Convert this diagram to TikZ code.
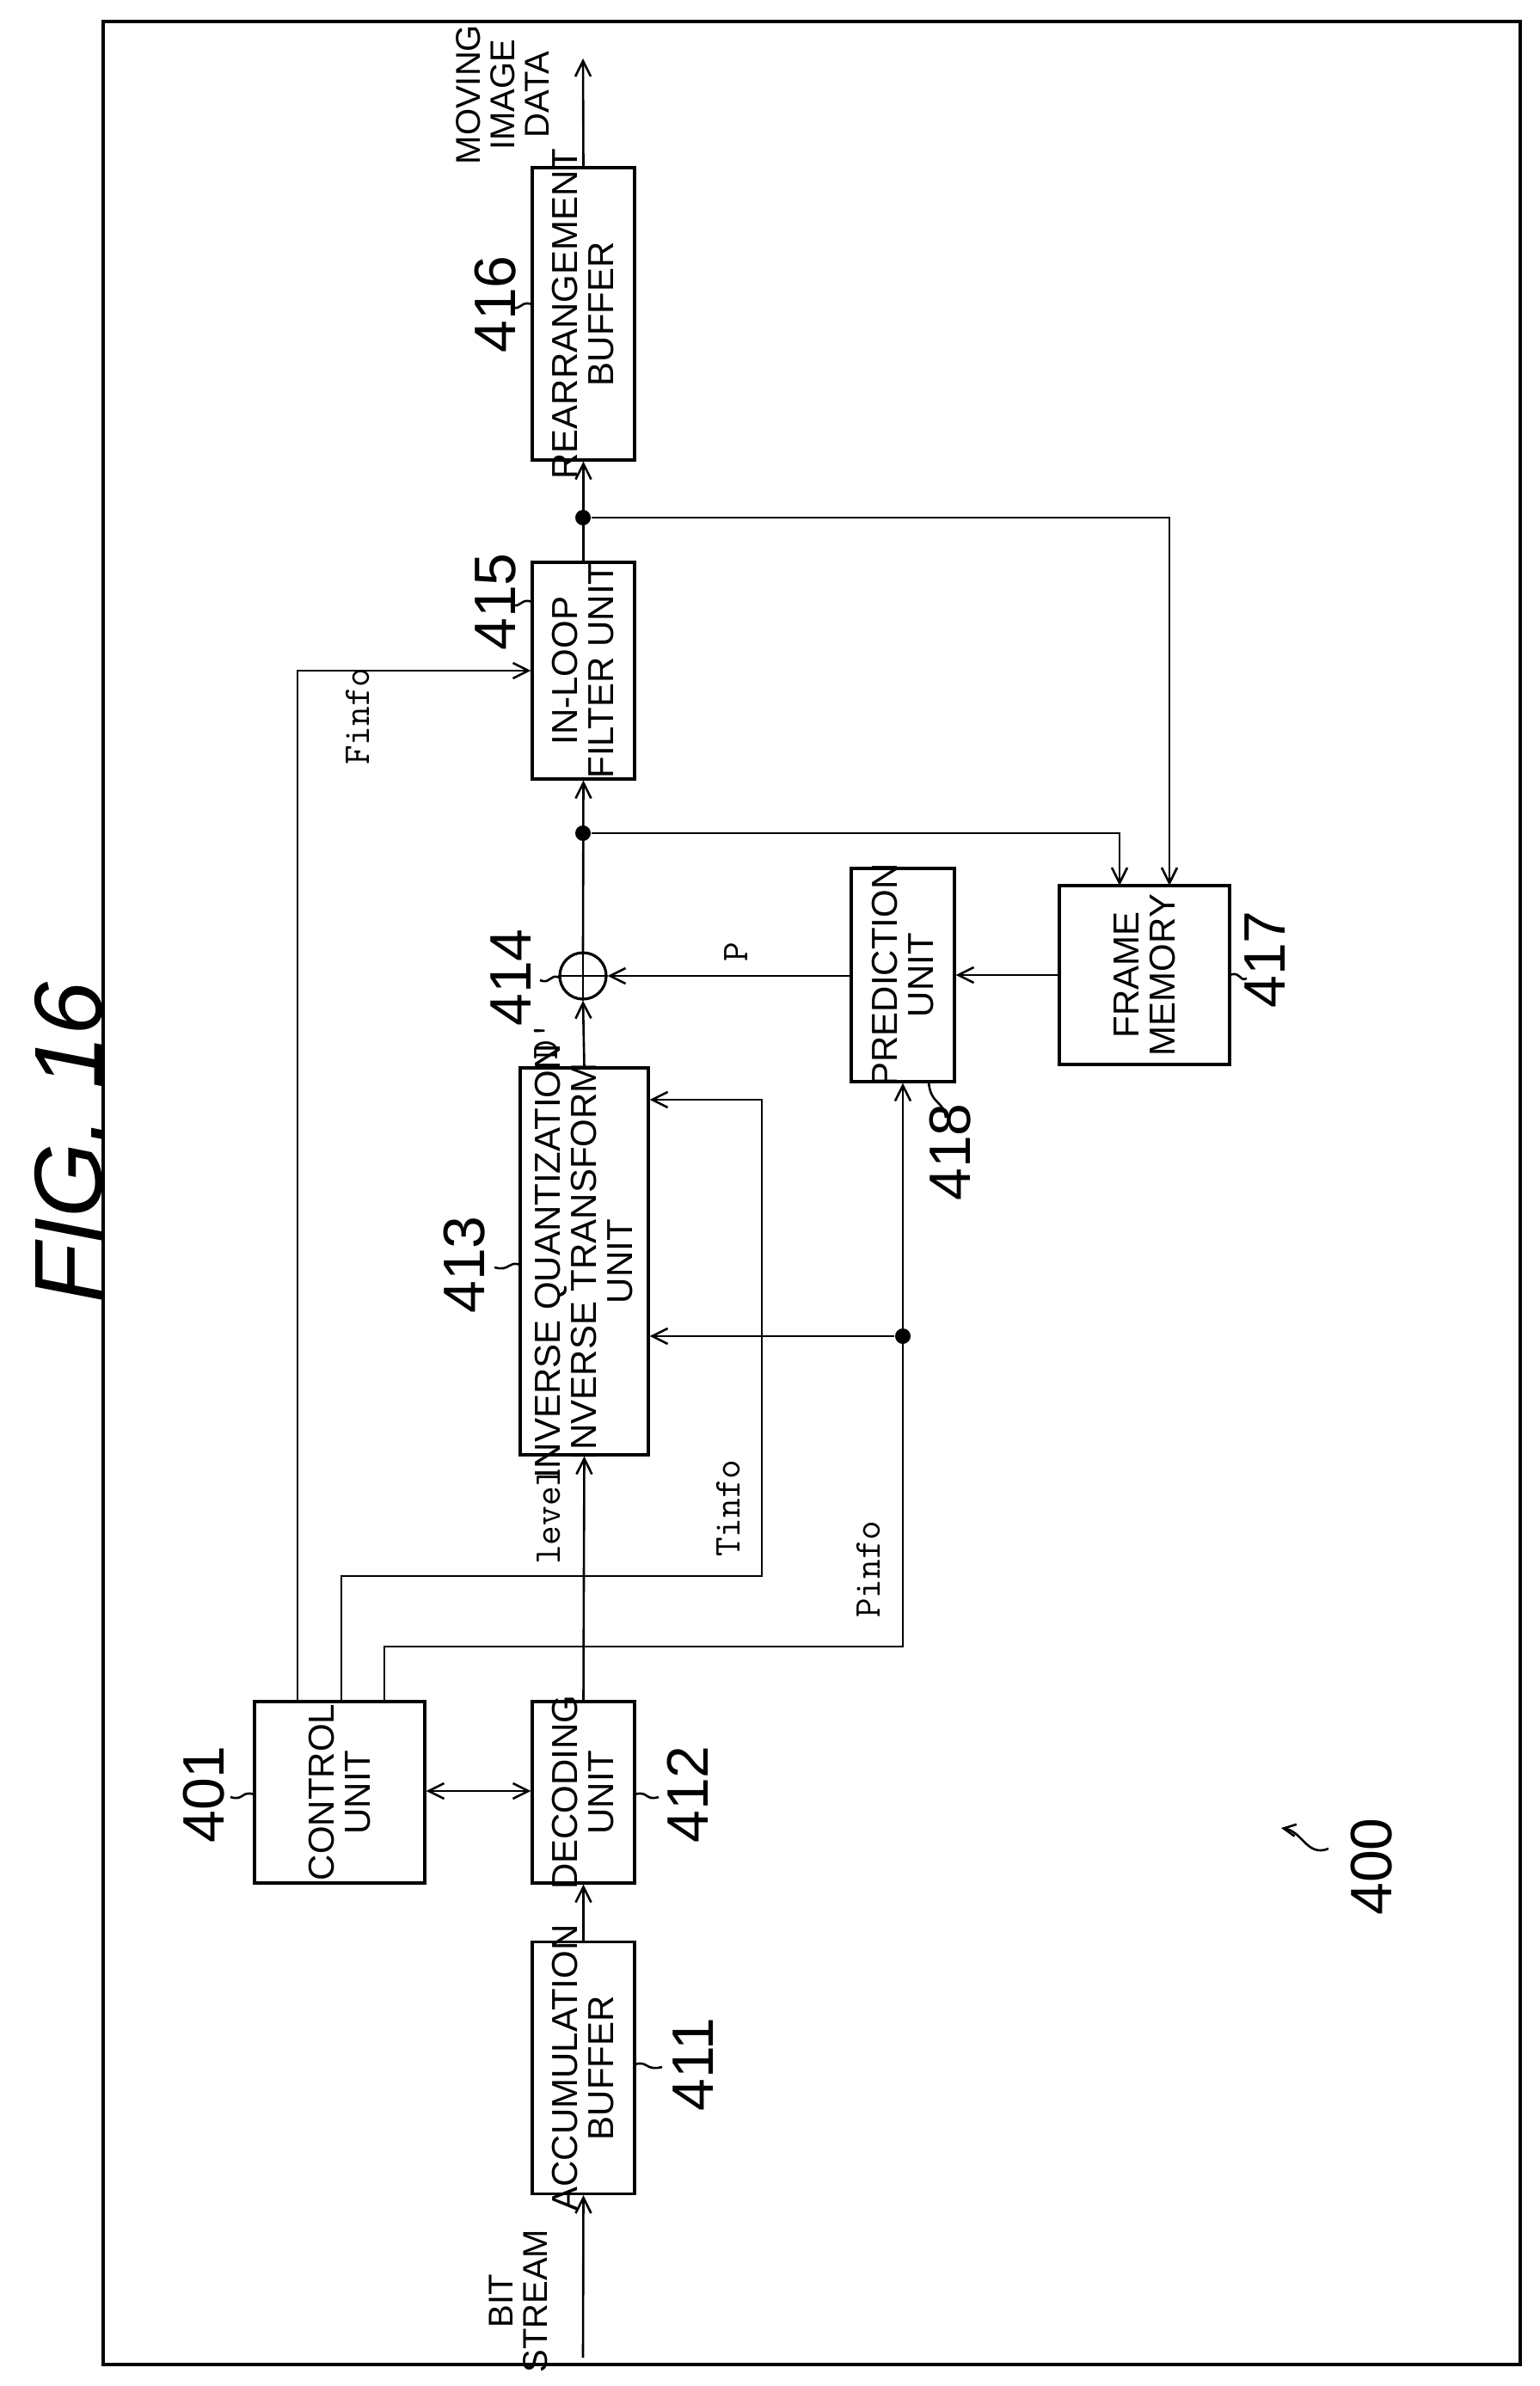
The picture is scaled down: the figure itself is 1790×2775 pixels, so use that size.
\documentclass[tikz,border=0pt]{standalone}
\usepackage{fontspec}
\setmainfont{Liberation Sans}
\usetikzlibrary{arrows.meta}
\begin{document}
\begin{tikzpicture}[x=0.5pt,y=-0.5pt,
  every path/.style={line width=1.3pt},
  box/.style={draw,line width=1.6pt,inner sep=0pt},
  btxt/.style={rotate=90,align=center,font=\fontsize{21}{21}\selectfont},
  ref/.style={rotate=90,font=\fontsize{34}{34}\selectfont},
  sig/.style={rotate=90,font=\ttfamily\fontsize{22}{22}\selectfont},
  arr/.style={-{Straight Barb[length=9pt,width=9pt]}},
  dot/.style={circle,fill,inner sep=0pt,minimum size=9pt}]
\useasboundingbox (0,0) rectangle (1790,2775);
\draw[line width=1.6pt] (120,25) rectangle (1768,2750);
\node[rotate=90,font=\itshape\fontsize{56}{56}\selectfont] (fig) at (80,1329) {FIG. 16};
% boxes
\node[box,minimum width=119*0.5pt,minimum height=293*0.5pt] (b411) at (678.5,2405) {};
\node[btxt] at (b411) {ACCUMULATION\\BUFFER};
\node[box,minimum width=119*0.5pt,minimum height=211*0.5pt] (b412) at (678.5,2084.5) {};
\node[btxt] at (b412) {DECODING\\UNIT};
\node[box,minimum width=198*0.5pt,minimum height=211*0.5pt] (b401) at (395,2084.5) {};
\node[btxt] at (b401) {CONTROL\\UNIT};
\node[box,minimum width=149*0.5pt,minimum height=450*0.5pt] (b413) at (679.5,1467) {};
\node[btxt] at (b413) {INVERSE QUANTIZATION\\INVERSE TRANSFORM\\UNIT};
\node[draw,circle,line width=1.6pt,minimum size=54*0.5pt,inner sep=0pt] (b414) at (678,1135) {};
\draw (b414.north) -- (b414.south) (b414.west) -- (b414.east);
\node[box,minimum width=120*0.5pt,minimum height=248*0.5pt] (b418) at (1050,1134) {};
\node[btxt] at (b418) {PREDICTION\\UNIT};
\node[box,minimum width=198*0.5pt,minimum height=208*0.5pt] (b417) at (1331,1134) {};
\node[btxt] at (b417) {FRAME\\MEMORY};
\node[box,minimum width=119*0.5pt,minimum height=252*0.5pt] (b415) at (678.5,780) {};
\node[btxt] at (b415) {IN-LOOP\\FILTER UNIT};
\node[box,minimum width=119*0.5pt,minimum height=340*0.5pt] (b416) at (678.5,365) {};
\node[btxt] at (b416) {REARRANGEMENT\\BUFFER};
% io
\coordinate (in) at (678,2742);
\coordinate (out) at (678,68);
\node[btxt,font=\fontsize{20}{20}\selectfont] at (603,2676) {BIT\\STREAM};
\node[btxt,font=\fontsize{20}{20}\selectfont] at (585,110) {MOVING\\IMAGE\\DATA};
\draw[arr] (in) -- (b411.south);
\draw[arr] (b411.north) -- (b412.south);
\draw[{Straight Barb[length=9pt,width=9pt]}-{Straight Barb[length=9pt,width=9pt]}] (b401.east |- 0,2083) -- (b412.west |- 0,2083);
\draw[arr] (b412.north) -- (b413.south);
\draw[arr] (b413.north) -- (b414.south);
\draw[arr] (b418.west |- b414) -- (b414.east);
\draw[arr] (b417.west) -- (b418.east);
\node[dot] (d1) at (678,969) {};
\node[dot] (d2) at (678,602) {};
\node[dot] (d3) at (1050,1554) {};
\draw[arr] (b414.north) -- (b415.south);
\draw[arr] (b415.north) -- (b416.south);
\draw[arr] (b416.north) -- (out);
\draw[arr] (d1) -| (1302,1030);
\draw[arr] (d2) -| (1360,1030);
% control lines
\draw[arr] (346,1979) |- (b415.west |- 0,780);
\draw[arr] (397,1979) |- (886,1833) |- (b413.east |- 0,1279);
\draw[arr] (447,1979) |- (1050,1915) -- (b418.south);
\draw[arr] (d3) -- (b413.east |- d3);
% signal labels
\node[sig] at (416,833) {Finfo};
\node[sig] at (638,1763) {level};
\node[sig] at (847,1754) {Tinfo};
\node[sig] at (1010,1825) {Pinfo};
\node[sig] at (635,1210) {D'};
\node[sig] at (856,1107) {P};
% refs
\node[ref] at (237,2087) {401};
\draw (296,2087) .. controls (280,2082) and (284,2095) .. (268,2090);
\node[ref] at (800,2087) {412};
\draw (738,2087) .. controls (754,2082) and (750,2095) .. (766,2090);
\node[ref] at (806,2401) {411};
\draw (738,2401) .. controls (754,2396) and (750,2409) .. (770,2404);
\node[ref] at (540,1471) {413};
\draw (605,1471) .. controls (590,1466) and (594,1479) .. (575,1474);
\node[ref] at (594,1137) {414};
\draw (651,1137) .. controls (638,1132) and (642,1145) .. (628,1140);
\node[ref] at (1105,1340) {418};
\draw (1080,1258) .. controls (1082,1285) and (1098,1280) .. (1100,1300);
\node[ref] at (1471,1116) {417};
\draw (1430,1134) .. controls (1444,1129) and (1440,1142) .. (1450,1138);
\node[ref] at (576,700) {415};
\draw (619,700) .. controls (604,695) and (608,708) .. (594,703);
\node[ref] at (576,354) {416};
\draw (619,354) .. controls (604,349) and (608,362) .. (594,357);
\node[ref] at (1595,2171) {400};
\draw[-{Straight Barb[length=7pt,width=7pt]}] (1545,2150) .. controls (1520,2160) and (1515,2130) .. (1490,2126);
\end{tikzpicture}
\end{document}
